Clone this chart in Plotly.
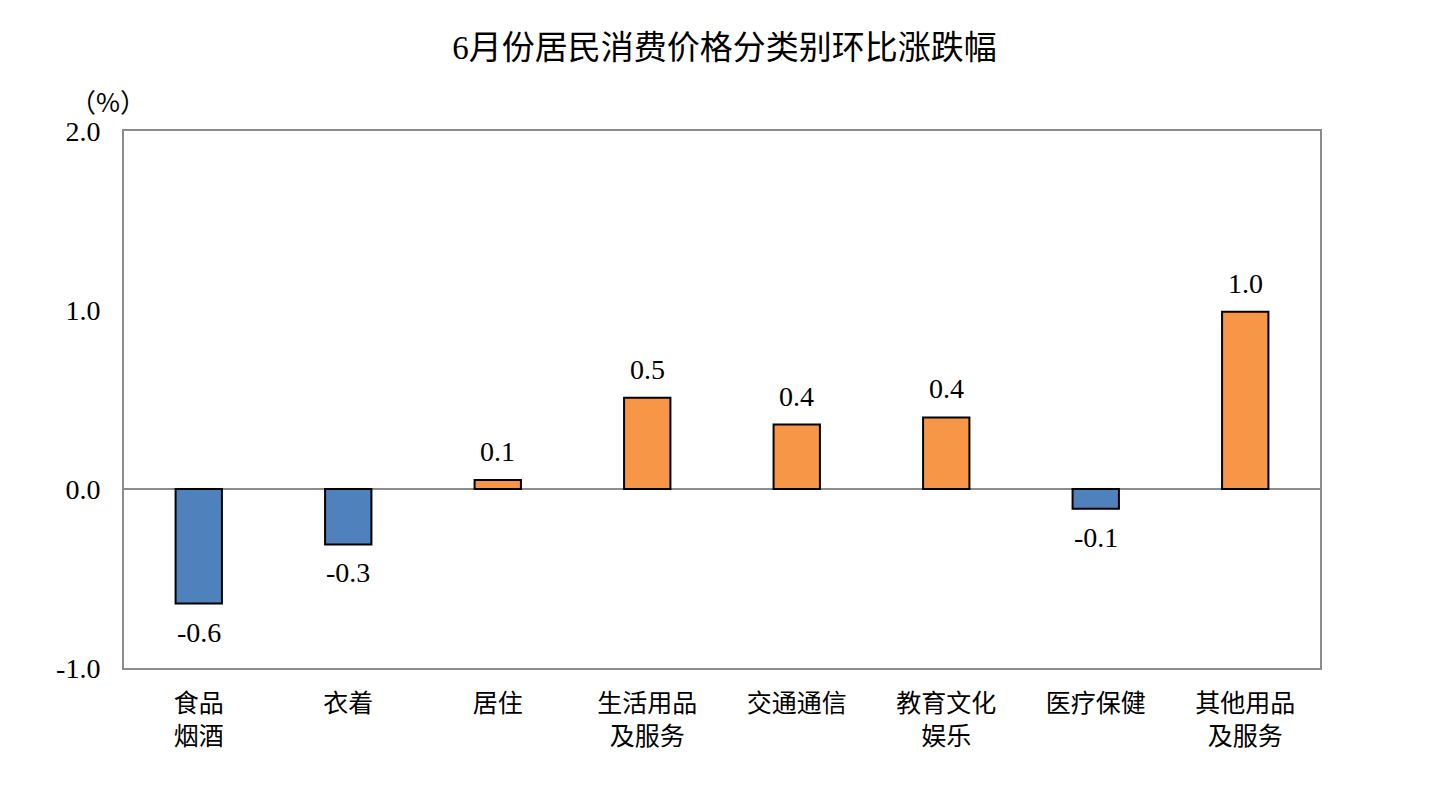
import plotly.graph_objects as go

categories = ["食品<br>烟酒", "衣着", "居住", "生活用品<br>及服务", "交通通信", "教育文化<br>娱乐", "医疗保健", "其他用品<br>及服务"]
values = [-0.64, -0.31, 0.05, 0.51, 0.36, 0.40, -0.11, 0.99]
value_labels = ["-0.6", "-0.3", "0.1", "0.5", "0.4", "0.4", "-0.1", "1.0"]
y_ticks = [-1.0, 0.0, 1.0, 2.0]
y_tick_labels = ["-1.0", "0.0", "1.0", "2.0"]
title_text = "6月份居民消费价格分类别环比涨跌幅"
unit_text = "（%）"

POS = "#F79646"
NEG = "#4F81BD"
FONT = "Liberation Serif, Noto Sans CJK SC, serif"

colors = [POS if v >= 0 else NEG for v in values]

fig = go.Figure()
fig.add_trace(go.Bar(
    x=categories, y=values, width=0.31,
    marker=dict(color=colors, line=dict(color="black", width=2)),
    hoverinfo="skip",
))

for c, v, t in zip(categories, values, value_labels):
    fig.add_annotation(
        x=c, y=v, text=t, showarrow=False,
        yanchor="bottom" if v >= 0 else "top",
        yshift=11 if v >= 0 else -11,
        font=dict(family=FONT, size=28, color="black"),
    )

fig.add_annotation(
    xref="paper", yref="paper", x=-0.013, y=1.056, text=unit_text,
    showarrow=False, xanchor="center", yanchor="middle",
    font=dict(family="Noto Sans CJK SC", size=26, color="black"),
)

fig.update_layout(
    width=1433, height=791,
    margin=dict(l=116, r=121, t=123, b=131),
    paper_bgcolor="white", plot_bgcolor="white",
    showlegend=False,
    title=dict(text=title_text, x=0.5, xanchor="center", y=1 - 39 / 791,
               yref="container", yanchor="middle",
               font=dict(family=FONT, size=33, color="black")),
    font=dict(family=FONT, color="black"),
)
fig.update_xaxes(
    showline=True, mirror=True, linecolor="#8C8C8C", linewidth=2,
    showgrid=False, ticks="", ticklabelstandoff=12,
    tickfont=dict(family=FONT, size=25, color="black"),
)
fig.update_yaxes(
    range=[-1, 2], tickvals=y_ticks, ticktext=y_tick_labels,
    showline=True, mirror=True, linecolor="#8C8C8C", linewidth=2,
    showgrid=False, zeroline=True, zerolinecolor="#8C8C8C", zerolinewidth=2,
    ticks="", ticklabelstandoff=16,
    tickfont=dict(family=FONT, size=28, color="black"),
)

fig.write_html("out.html")
